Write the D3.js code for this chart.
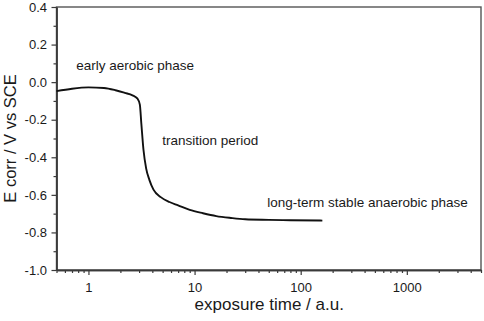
<!DOCTYPE html>
<html>
<head>
<meta charset="utf-8">
<script src="https://cdn.jsdelivr.net/npm/d3@7"></script>
<style>
  html, body { margin: 0; padding: 0; background: #fff; }
  svg { display: block; font-family: "Liberation Sans", Arial, sans-serif; }
</style>
</head>
<body>
<svg id="chart" width="484" height="321"></svg>
<script>
// ---- data ----
const timeValues = [0.5, 0.7, 1.0, 1.4, 1.8, 2.2, 2.6, 2.9, 3.05, 3.15, 3.3, 3.5, 3.75, 4.1, 4.8, 5.8, 7.0, 9.0, 12, 16, 22, 30, 50, 80, 160];
const ecorrValues = [-0.048, -0.035, -0.028, -0.031, -0.043, -0.057, -0.070, -0.088, -0.12, -0.22, -0.36, -0.46, -0.52, -0.572, -0.612, -0.638, -0.656, -0.680, -0.698, -0.713, -0.723, -0.730, -0.733, -0.735, -0.737];
const xMajorTicks = [1, 10, 100, 1000];
const yMajorTicks = [-1.0, -0.8, -0.6, -0.4, -0.2, 0.0, 0.2, 0.4];
const yMinorTicks = [-0.9, -0.7, -0.5, -0.3, -0.1, 0.1, 0.3];
const annotationTexts = ["early aerobic phase", "transition period", "long-term stable anaerobic phase"];
const annotationAnchors = [[0.766, 0.064], [4.96, -0.335], [48.5, -0.665]];
const xTitle = "exposure time / a.u.";
const yTitle = "E corr / V vs SCE";

// ---- layout ----
const svg = d3.select("#chart");
const m = { left: 56.5, right: 481, top: 7, bottom: 270 };
const x = d3.scaleLog().domain([0.5, 5000]).range([m.left, m.right]);
const y = d3.scaleLinear().domain([-1.0, 0.4]).range([m.bottom, m.top]);

const axisColor = "#3a3a3a";
const textColor = "#1a1a1a";

// minor x ticks
const xMinorTicks = [];
[0.1, 1, 10, 100, 1000].forEach(dec => {
  for (let k = 2; k <= 9; k++) {
    const v = dec * k;
    if (v >= 0.5 && v <= 5000 && !xMajorTicks.includes(v)) xMinorTicks.push(v);
  }
});

// frame
svg.append("rect")
  .attr("x", m.left).attr("y", m.top)
  .attr("width", m.right - m.left).attr("height", m.bottom - m.top)
  .attr("fill", "none").attr("stroke", "#555").attr("stroke-width", 1.4);

// x axis
const xAxisMajor = d3.axisBottom(x).tickValues(xMajorTicks).tickFormat(d3.format("d")).tickSize(5).tickSizeOuter(0);
const xAxisMinor = d3.axisBottom(x).tickValues(xMinorTicks).tickFormat("").tickSize(3).tickSizeOuter(0);
const gxMinor = svg.append("g").attr("transform", `translate(0,${m.bottom})`).call(xAxisMinor);
const gx = svg.append("g").attr("transform", `translate(0,${m.bottom})`).call(xAxisMajor);
[gx, gxMinor].forEach(g => {
  g.select(".domain").attr("stroke", axisColor).attr("stroke-width", 1.4);
  g.selectAll(".tick line").attr("stroke", axisColor).attr("stroke-width", 1.2);
});
gx.selectAll(".tick text")
  .attr("fill", textColor).attr("font-size", 13).attr("dy", null).attr("y", 22)
  .attr("font-family", "Liberation Sans, Arial, sans-serif");

// y axis
const yAxisMajor = d3.axisLeft(y).tickValues(yMajorTicks).tickFormat(d => d.toFixed(1)).tickSize(5).tickSizeOuter(0);
const yAxisMinor = d3.axisLeft(y).tickValues(yMinorTicks).tickFormat("").tickSize(3).tickSizeOuter(0);
const gyMinor = svg.append("g").attr("transform", `translate(${m.left},0)`).call(yAxisMinor);
const gy = svg.append("g").attr("transform", `translate(${m.left},0)`).call(yAxisMajor);
[gy, gyMinor].forEach(g => {
  g.select(".domain").attr("stroke", axisColor).attr("stroke-width", 1.4);
  g.selectAll(".tick line").attr("stroke", axisColor).attr("stroke-width", 1.2);
});
gy.selectAll(".tick text")
  .attr("fill", textColor).attr("font-size", 13).attr("x", -9.5)
  .attr("font-family", "Liberation Sans, Arial, sans-serif");

// curve
const pts = timeValues.map((t, i) => [t, ecorrValues[i]]);
const line = d3.line().x(d => x(d[0])).y(d => y(d[1])).curve(d3.curveMonotoneX);
svg.append("path").datum(pts)
  .attr("d", line).attr("fill", "none")
  .attr("stroke", "#111").attr("stroke-width", 1.9).attr("stroke-linejoin", "round");

// annotations
annotationTexts.forEach((txt, i) => {
  svg.append("text")
    .attr("x", x(annotationAnchors[i][0]))
    .attr("y", y(annotationAnchors[i][1]))
    .attr("font-size", 13.5).attr("fill", textColor)
    .text(txt);
});

// titles
svg.append("text")
  .attr("x", (m.left + m.right) / 2 + 0.5).attr("y", 310)
  .attr("text-anchor", "middle").attr("font-size", 17).attr("fill", textColor)
  .text(xTitle);
svg.append("text")
  .attr("transform", `translate(15.5,${(m.top + m.bottom) / 2}) rotate(-90)`)
  .attr("text-anchor", "middle").attr("font-size", 16.5).attr("fill", textColor)
  .text(yTitle);
</script>
</body>
</html>
